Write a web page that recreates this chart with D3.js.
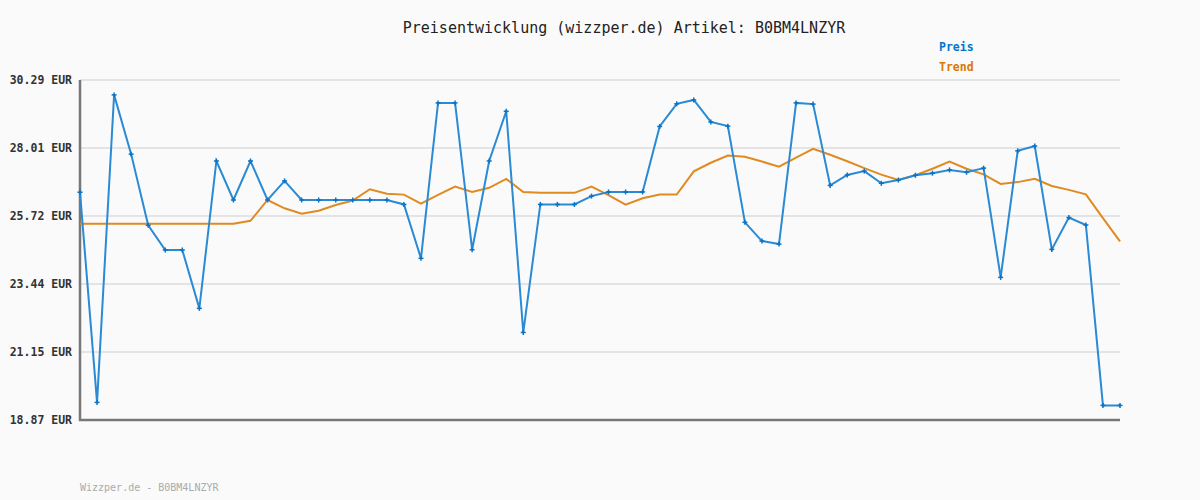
<!DOCTYPE html>
<html>
<meta charset="utf-8">
<head>
  <script src="https://d3js.org/d3.v7.min.js"></script>
  <style>
  body { margin: 0; background: #fafafa; }
  svg { display: block; }
  .title { font: 15px "DejaVu Sans Mono", monospace; fill: #222; }
  .tick text { font: bold 11.5px "DejaVu Sans Mono", monospace; fill: #333; }
  .legend { font: bold 11.5px "DejaVu Sans Mono", monospace; }
  .footer { font: 10px "DejaVu Sans Mono", monospace; fill: #aaa; }
  </style>
</head>
<body>
<div id="chart"></div>
<script>

// price points (EUR), one per observation
var preis = [26.52, 19.46, 29.79, 27.80, 25.41, 24.58, 24.58, 22.62, 27.57, 26.26,
  27.57, 26.26, 26.90, 26.26, 26.26, 26.26, 26.26, 26.26, 26.26, 26.11,
  24.30, 29.52, 29.52, 24.59, 27.57, 29.24, 21.81, 26.11, 26.11, 26.11,
  26.39, 26.53, 26.53, 26.53, 28.73, 29.49, 29.62, 28.88, 28.74, 25.51,
  24.88, 24.78, 29.52, 29.48, 26.75, 27.10, 27.23, 26.82, 26.93, 27.09,
  27.16, 27.27, 27.19, 27.33, 23.66, 27.91, 28.07, 24.60, 25.67, 25.42,
  19.36, 19.36]

var trend = [25.46, 25.46, 25.46, 25.46, 25.46, 25.46, 25.46, 25.46, 25.46, 25.46,
  25.56, 26.26, 25.98, 25.80, 25.90, 26.09, 26.24, 26.62, 26.47, 26.44,
  26.14, 26.43, 26.71, 26.53, 26.67, 26.97, 26.53, 26.50, 26.50, 26.50,
  26.71, 26.42, 26.10, 26.32, 26.44, 26.44, 27.22, 27.51, 27.75, 27.71,
  27.55, 27.38, 27.68, 27.98, 27.78, 27.56, 27.33, 27.11, 26.93, 27.09,
  27.31, 27.55, 27.31, 27.12, 26.80, 26.86, 26.97, 26.73, 26.60, 26.45,
  25.65, 24.87]

var yTicks = [18.87, 21.15, 23.44, 25.72, 28.01, 30.29]

var W = 1200, H = 500
var margin = {top: 80, right: 80, bottom: 80, left: 80}

var svg = d3.select("#chart").append("svg")
  .attr("width", W).attr("height", H)

svg.append("rect").attr("width", W).attr("height", H).attr("fill", "#fafafa")

var x = d3.scaleLinear().domain([0, preis.length - 1]).range([margin.left, W - margin.right])
var y = d3.scaleLinear().domain([18.87, 30.29]).range([H - margin.bottom, margin.top])

// grid
svg.append("g").selectAll("line").data(yTicks.slice(1)).enter().append("line")
  .attr("x1", margin.left).attr("x2", W - margin.right)
  .attr("y1", function(d) { return y(d) }).attr("y2", function(d) { return y(d) })
  .attr("stroke", "#e4e4e4").attr("stroke-width", 2)

// y axis labels
var yAxis = d3.axisLeft(y).tickValues(yTicks).tickSize(0).tickPadding(8)
  .tickFormat(function(d) { return d.toFixed(2) + " EUR" })
svg.append("g").attr("transform", "translate(" + margin.left + ",0)").call(yAxis)
  .call(function(g) { g.select(".domain").remove() })

// axis lines
svg.append("line").attr("x1", margin.left).attr("x2", margin.left)
  .attr("y1", margin.top).attr("y2", H - margin.bottom + 1)
  .attr("stroke", "#777").attr("stroke-width", 2.5)
svg.append("line").attr("x1", margin.left - 1).attr("x2", W - margin.right)
  .attr("y1", H - margin.bottom).attr("y2", H - margin.bottom)
  .attr("stroke", "#777").attr("stroke-width", 2.5)

var line = d3.line().x(function(d, i) { return x(i) }).y(function(d) { return y(d) })

svg.append("path").datum(trend).attr("d", line)
  .attr("fill", "none").attr("stroke", "#e08a22").attr("stroke-width", 2)

svg.append("path").datum(preis).attr("d", line)
  .attr("fill", "none").attr("stroke", "#2a8ad4").attr("stroke-width", 2)

// point markers (small plus)
var marks = svg.append("g").attr("stroke", "#0a72c4").attr("stroke-width", 1.5)
preis.forEach(function(d, i) {
  marks.append("line").attr("x1", x(i) - 2.5).attr("x2", x(i) + 2.5).attr("y1", y(d)).attr("y2", y(d))
  marks.append("line").attr("x1", x(i)).attr("x2", x(i)).attr("y1", y(d) - 2.5).attr("y2", y(d) + 2.5)
})

svg.append("text").attr("class", "title").attr("x", 624).attr("y", 33)
  .attr("text-anchor", "middle").text("Preisentwicklung (wizzper.de) Artikel: B0BM4LNZYR")

svg.append("text").attr("class", "legend").attr("x", 939).attr("y", 51)
  .attr("fill", "#0077cc").text("Preis")
svg.append("text").attr("class", "legend").attr("x", 939).attr("y", 71)
  .attr("fill", "#dd7700").text("Trend")

svg.append("text").attr("class", "footer").attr("x", 80).attr("y", 491)
  .text("Wizzper.de - B0BM4LNZYR")

</script>
</body>
</html>
